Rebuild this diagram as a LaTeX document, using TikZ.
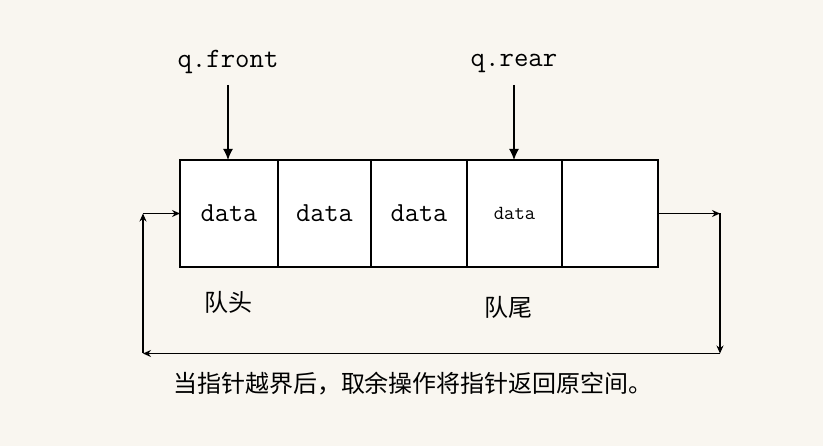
\documentclass[tikz,border=0pt]{standalone}
\usepackage{fontspec}
\newfontfamily\cjk{Noto Sans CJK SC}
\usepackage{tikz}
\usetikzlibrary{positioning}
\usetikzlibrary{arrows.meta,arrows}
\definecolor{paper}{RGB}{249,246,240}
\tikzset{
	cell/.style={draw, fill=white, line width=1.4pt, minimum height=107pt, inner sep=0pt, outer sep=0pt, font=\fontsize{27.5}{27.5}\selectfont\ttfamily},
	ptr/.style={line width=1.4pt, -{Latex[length=11pt,width=10pt]}},
	wrap/.style={line width=1.4pt, -{Stealth[length=8pt,width=7pt]}},
	zh/.style={font=\cjk\fontsize{24}{24}\selectfont}
}

\begin{document}
\begin{tikzpicture}[x=1pt,y=-1pt]
				\fill[paper] (0,0) rectangle (823,446);
				\node[cell, minimum width=98pt](d1) at (229,213.5) {data};
				\node[cell, minimum width=93pt, right=0pt of d1](d2) {data};
				\node[cell, minimum width=96pt, right=0pt of d2](d3) {data};
				\node[cell, minimum width=95pt, right=0pt of d3, font=\fontsize{20}{20}\selectfont\ttfamily](d4) {data};
				\node[cell, minimum width=96pt, right=0pt of d4](d5) {};
				\node[font=\fontsize{28}{28}\selectfont\ttfamily](front) at (228,62) {q.front};
				\node[font=\fontsize{28}{28}\selectfont\ttfamily](rear) at (514,63) {q.rear};
				\node[zh](head) at (228,302) {队头};
				\node[zh](tail) at (508,307) {队尾};
				\node[zh](note) at (413,384) {当指针越界后，取余操作将指针返回原空间。};
				\coordinate (r1) at ([xshift=62pt]d5.east);
				\coordinate (r2) at ([yshift=-140pt]r1);
				\coordinate (l1) at ([xshift=-37pt]d1.west);
				\coordinate (l2) at (l1 |- r2);

				\draw[ptr] (front.south |- 0,85) -- (front.south |- d1.north);
				\draw[ptr] (rear.south |- 0,85) -- (rear.south |- d4.north);
				\draw[wrap] (d5.east) -- (r1);
				\draw[wrap] (r1) -- (r2);
				\draw[wrap] (r2) -- (l2);
				\draw[wrap] (l2) -- (l1);
				\draw[wrap] (l1) -- (d1.west);
			\end{tikzpicture}
\end{document}
